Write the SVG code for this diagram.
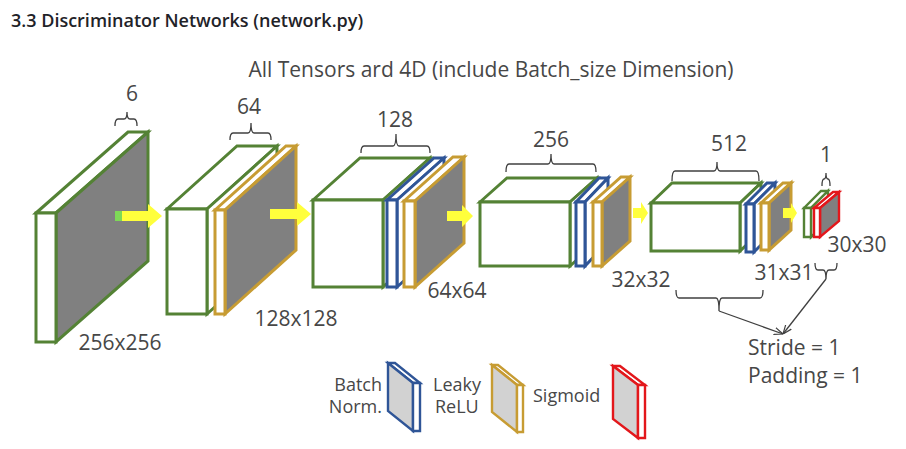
<svg xmlns="http://www.w3.org/2000/svg" width="906" height="449" viewBox="0 0 906 449">
<defs>
<style>
.g{stroke:#548235}.b{stroke:#2f5597}.o{stroke:#c79c33}.r{stroke:#e3171b}
.s3 polygon{stroke-width:3;stroke-linejoin:miter}
.s2 polygon{stroke-width:2.4;stroke-linejoin:miter}
.w{fill:#ffffff}.k{fill:#808080}.lk{fill:#d2d2d2}
.t{font-family:"Open Sans","Noto Sans","DejaVu Sans",sans-serif;font-size:21px;fill:#474747}
.lg{font-family:"Open Sans","Noto Sans","DejaVu Sans",sans-serif;font-size:18px;fill:#474747}
.br{fill:none;stroke:#404040;stroke-width:1.3}
.ar{fill:#ffff3c}
</style>
<marker id="vh" viewBox="0 0 10 10" refX="10" refY="5" markerWidth="9" markerHeight="9" markerUnits="userSpaceOnUse" orient="auto">
<path d="M0,1 L10,5 L0,9" fill="none" stroke="#404040" stroke-width="1.3"/>
</marker>
</defs>
<rect width="906" height="449" fill="#ffffff"/>
<text x="11" y="27" font-family="'Open Sans','Noto Sans',sans-serif" font-size="18" font-weight="600" fill="#1f2328">3.3 Discriminator Networks (network.py)</text>
<text class="t" x="491" y="77" text-anchor="middle" font-size="21.5">All Tensors ard 4D (include Batch_size Dimension)</text>

<g id="block-input" class="s3">
<polygon class="g w" points="36,213 128,132 148,132 56,213"/>
<polygon class="g k" points="56,213 148,132 148,261 56,342"/>
<polygon class="g w" points="36,213 56,213 56,342 36,342"/>
<text class="t" x="132" y="101" text-anchor="middle">6</text>
<text class="t" x="120" y="350" text-anchor="middle">256x256</text>
</g>

<g id="block-conv64" class="s3">
<polygon class="g w" points="167,209 237,146 277,146 207,209"/>
<polygon class="g w" points="207,209 277,146 277,251 207,314"/>
<polygon class="g w" points="167,209 207,209 207,314 167,314"/>
<polygon class="o w" points="215,210 286,146 296,146 225,210"/>
<polygon class="o k" points="225,210 296,146 296,250 225,314"/>
<polygon class="o w" points="215,210 225,210 225,314 215,314"/>
<text class="t" x="249" y="114" text-anchor="middle">64</text>
<text class="t" x="296" y="326" text-anchor="middle">128x128</text>
</g>

<g id="block-conv128" class="s3">
<polygon class="g w" points="313,200 360,158 430,158 383,200"/>
<polygon class="g w" points="383,200 430,158 430,245 383,287"/>
<polygon class="g w" points="313,200 383,200 383,287 313,287"/>
<polygon class="b w" points="387,200 434,158 444,158 397,200"/>
<polygon class="b w" points="397,200 444,158 444,245 397,287"/>
<polygon class="b w" points="387,200 397,200 397,287 387,287"/>
<polygon class="o w" points="404,201 453,157 464,157 415,201"/>
<polygon class="o k" points="415,201 464,157 464,243 415,287"/>
<polygon class="o w" points="404,201 415,201 415,287 404,287"/>
<text class="t" x="395" y="127" text-anchor="middle">128</text>
<text class="t" x="457" y="298" text-anchor="middle">64x64</text>
</g>

<g id="block-conv256" class="s3">
<polygon class="g w" points="480,202 507,178 597,178 570,202"/>
<polygon class="g w" points="570,202 597,178 597,242 570,266"/>
<polygon class="g w" points="480,202 570,202 570,266 480,266"/>
<polygon class="b w" points="576,202 599,178 608,178 585,202"/>
<polygon class="b w" points="585,202 608,178 608,242 585,266"/>
<polygon class="b w" points="576,202 585,202 585,266 576,266"/>
<polygon class="o w" points="593,202 621,177 630,177 602,202"/>
<polygon class="o k" points="602,202 630,177 630,241 602,266"/>
<polygon class="o w" points="593,202 602,202 602,266 593,266"/>
<text class="t" x="551" y="147" text-anchor="middle">256</text>
<text class="t" x="641" y="287" text-anchor="middle">32x32</text>
</g>

<g id="block-conv512" class="s3">
<polygon class="g w" points="651,203 672,183 761,183 740,203"/>
<polygon class="g w" points="740,203 761,183 761,231 740,251"/>
<polygon class="g w" points="651,203 740,203 740,251 651,251"/>
<polygon class="b w" points="746,204 767,183 775,183 754,204"/>
<polygon class="b w" points="754,204 775,183 775,231 754,252"/>
<polygon class="b w" points="746,204 754,204 754,252 746,252"/>
<polygon class="o w" points="761,203 783,183 791,183 769,203"/>
<polygon class="o k" points="769,203 791,183 791,230 769,250"/>
<polygon class="o w" points="761,203 769,203 769,250 761,250"/>
<text class="t" x="729" y="151" text-anchor="middle">512</text>
<text class="t" x="784" y="280" text-anchor="middle">31x31</text>
</g>

<g id="block-out1" class="s2">
<polygon class="g w" points="804,208 821,191 828,191 811,208"/>
<polygon class="g w" points="811,208 828,191 828,220 811,237"/>
<polygon class="g w" points="804,208 811,208 811,237 804,237"/>
<polygon class="r w" points="814,208 833,192 839,192 820,208"/>
<polygon class="r k" points="820,208 839,192 839,221 820,237"/>
<polygon class="r w" points="814,208 820,208 820,237 814,237"/>
<text class="t" x="826" y="162" text-anchor="middle">1</text>
<text class="t" x="857" y="252" text-anchor="middle">30x30</text>
</g>

<g id="stride-note">
<text class="t" x="748" y="355">Stride = 1</text>
<text class="t" x="748" y="383">Padding = 1</text>
</g>

<g id="legend-bn" class="s2">
<text class="lg" x="382" y="391" text-anchor="end">Batch</text>
<text class="lg" x="382" y="413" text-anchor="end">Norm.</text>
<polygon class="b w" points="413,383 388,363 395,363 420,383"/>
<polygon class="b lk" points="413,383 388,363 388,411 413,431"/>
<polygon class="b w" points="413,383 420,383 420,431 413,431"/>
</g>
<g id="legend-lrelu" class="s2">
<text class="lg" x="433" y="391">Leaky</text>
<text class="lg" x="435" y="413">ReLU</text>
<polygon class="o w" points="517,385 492,365 498,365 523,385"/>
<polygon class="o lk" points="517,385 492,365 492,412 517,432"/>
<polygon class="o w" points="517,385 523,385 523,432 517,432"/>
</g>
<g id="legend-sigmoid" class="s2">
<text class="lg" x="533" y="402" font-size="19.5">Sigmoid</text>
<polygon class="r w" points="638,385 613,366 620,366 645,385"/>
<polygon class="r lk" points="638,385 613,366 613,419 638,438"/>
<polygon class="r w" points="638,385 645,385 645,438 638,438"/>
</g>

<g id="connectors">
<polygon class="ar" points="115,211 148,211 148,204 162,216 148,228 148,221 115,221"/>
<rect x="115" y="211" width="7" height="10" fill="#7ed957"/>
<polygon class="ar" points="270,209 297,209 297,202 311,214 297,226 297,219 270,219"/>
<polygon class="ar" points="447,211 462,211 462,205 473,216 462,227 462,221 447,221"/>
<polygon class="ar" points="633,208 641,208 641,202 648,213 641,224 641,218 633,218"/>
<polygon class="ar" points="783,208 791,208 791,203 797,213 791,223 791,218 783,218"/>
<path class="br" d="M115,126 Q115,119 118,119 L124,119 Q127,119 127,112 Q127,119 130,119 L134,119 Q137,119 137,126"/>
<path class="br" d="M230,140 Q230,133 233,133 L248,133 Q251,133 251,123 Q251,133 254,133 L268,133 Q271,133 271,140"/>
<path class="br" d="M361,153 Q361,146 364,146 L393,146 Q396,146 396,134 Q396,146 399,146 L427,146 Q430,146 430,153"/>
<path class="br" d="M506,172 Q506,164 509,164 L548,164 Q551,164 551,154 Q551,164 554,164 L593,164 Q596,164 596,172"/>
<path class="br" d="M672,181 Q672,171 675,171 L714,171 Q717,171 717,162 Q717,171 720,171 L756,171 Q759,171 759,181"/>
<path class="br" d="M822,186 Q822,179 824,179 Q826,179 826,173 Q826,179 828,179 Q830,179 830,186"/>
<path class="br" d="M676,290 Q676,298 679,298 L716,298 Q719,298 719,311 Q719,298 722,298 L760,298 Q763,298 763,290"/>
<path class="br" d="M815,263 Q815,270 818,270 L823,270 Q826,270 826,279 Q826,270 829,270 L834,270 Q837,270 837,263"/>
<path class="br" d="M719,311 L783,334" marker-end="url(#vh)"/>
<path class="br" d="M826,279 L783,334" marker-end="url(#vh)"/>
</g>
</svg>
